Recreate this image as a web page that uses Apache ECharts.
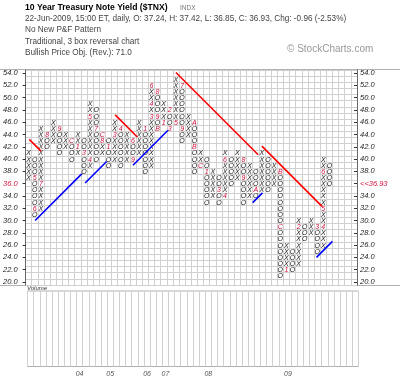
<!DOCTYPE html>
<html><head><meta charset="utf-8">
<script src="https://cdn.jsdelivr.net/npm/echarts@6/dist/echarts.min.js"></script>
<style>html,body{margin:0;padding:0;background:#fff}#c{width:400px;height:378px}</style>
</head><body><div id="c"></div>
<script>
const leftTickLabels = ['20.0','21.0','22.0','23.0','24.0','25.0','26.0','27.0','28.0','29.0','30.0','31.0','32.0','33.0','34.0','35.0','36.0','37.0','38.0','39.0','40.0','41.0','42.0','43.0','44.0','45.0','46.0','47.0','48.0','49.0','50.0','51.0','52.0','53.0','54.0'];
const rightTickLabels = ['20.0','21.0','22.0','23.0','24.0','25.0','26.0','27.0','28.0','29.0','30.0','31.0','32.0','33.0','34.0','35.0','<<36.93','37.0','38.0','39.0','40.0','41.0','42.0','43.0','44.0','45.0','46.0','47.0','48.0','49.0','50.0','51.0','52.0','53.0','54.0'];
const boxMin = 20, boxMax = 54, totalCols = 54;

const colTypes = ['X','O','X','O','X','O','X','O','X','O','X','O','X','O','X','O','X','O','X','O','X','O','X','O','X','O','X','O','X','O','X','O','X','O','X','O','X','O','X','O','X','O','X','O','X','O','X','O','X','O'];
const colLows  = [37,31,32,42,43,41,42,40,41,38,39,40,41,39,40,39,40,40,41,38,39,45,46,45,46,43,44,38,39,33,34,33,34,36,37,33,34,34,35,35,36,21,22,22,23,27,28,25,26,36];
const colHighs = [41,40,45,44,46,45,44,43,44,43,49,48,44,43,46,45,44,43,46,45,52,51,49,48,53,52,47,46,41,40,38,37,41,40,41,40,39,38,41,40,39,38,26,25,30,29,30,29,40,39];
const monthMarks = [[2,37,'5'],[2,32,'6'],[3,36,'7'],[4,44,'8'],[6,45,'9'],[8,43,'C'],[9,42,'1'],[10,41,'3'],[11,40,'4'],[11,47,'5'],[12,45,'7'],[13,43,'8'],[13,44,'C'],[14,42,'1'],[15,44,'3'],[16,45,'4'],[18,43,'6'],[18,40,'9'],[20,45,'1'],[21,47,'3'],[21,49,'4'],[21,52,'6'],[22,51,'8'],[22,47,'9'],[22,45,'B'],[23,46,'1'],[24,48,'2'],[24,45,'3'],[25,46,'5'],[26,52,'7'],[26,45,'9'],[28,46,'A'],[28,42,'B'],[29,39,'C'],[30,38,'1'],[32,35,'3'],[33,34,'4'],[33,40,'6'],[36,40,'8'],[36,37,'9'],[38,35,'A'],[42,38,'B'],[42,29,'C'],[43,22,'1'],[45,29,'2'],[48,29,'3'],[49,29,'4'],[49,32,'5'],[49,38,'6']];

const redTrendLines = [[1.1,43.2,3.0,41.3],[15.1,47.2,18.7,43.6],[25.0,54.1,38.4,40.7],[39.0,42.1,48.8,32.3]];
const blueTrendLines = [[2.05,30.0,9.65,37.6],[10.2,36.1,13.7,39.6],[18.0,39.0,23.7,44.7],[37.5,32.9,39.1,34.5],[47.9,24.0,50.5,26.6]];

const yearLabels = ['04','05','06','07','08','09'];
const yearCols = [9,14,20,23,30,43];

// build glyph list
const markMap = {};
monthMarks.forEach(m => { markMap[m[0] + '_' + m[1]] = m[2]; });
const glyphs = [];
colTypes.forEach((t, i) => {
  const col = i + 1;
  for (let v = colLows[i]; v <= colHighs[i]; v++) {
    const mk = markMap[col + '_' + v];
    glyphs.push({ value: [col, v], text: mk || t, mark: !!mk });
  }
});
const colCats = [];
for (let i = 1; i <= totalCols; i++) {
  const k = yearCols.indexOf(i);
  colCats.push(k >= 0 ? yearLabels[k] : '');
}

const FONT = '"Liberation Sans", Arial, sans-serif';
const chart = echarts.init(document.getElementById('c'), null, { renderer: 'canvas' });
const series = [];
series.push({
  type: 'custom', xAxisIndex: 0, yAxisIndex: 0, silent: true,
  data: glyphs.map(g => g.value),
  renderItem: function (params, api) {
    const g = glyphs[params.dataIndex];
    const p = api.coord([api.value(0), api.value(1)]);
    return {
      type: 'text', x: p[0], y: p[1] + 0.5,
      style: { text: g.text, fill: g.mark ? '#d0103a' : '#222', font: 'italic 7px ' + FONT, align: 'center', verticalAlign: 'middle' }
    };
  }
});
redTrendLines.forEach(l => series.push({ type: 'line', xAxisIndex: 0, yAxisIndex: 0, silent: true, symbol: 'none', data: [[l[0], l[1]], [l[2], l[3]]], lineStyle: { color: '#ff0000', width: 1.6 }, z: 5 }));
blueTrendLines.forEach(l => series.push({ type: 'line', xAxisIndex: 0, yAxisIndex: 0, silent: true, symbol: 'none', data: [[l[0], l[1]], [l[2], l[3]]], lineStyle: { color: '#0000ff', width: 1.6 }, z: 5 }));

const gridLine = { show: true, lineStyle: { color: '#d0d0d0', width: 1 } };
const option = {
  animation: false,
  backgroundColor: '#fff',
  grid: [
    { left: 25.5, right: 43, top: 70, height: 215, show: false },
    { left: 27.5, right: 41.5, top: 291, height: 75.5, show: true, borderColor: '#b0b0b0', borderWidth: 1, backgroundColor: 'transparent' }
  ],
  xAxis: [
    { type: 'value', gridIndex: 0, min: 0.5, max: totalCols + 0.5, interval: 1, splitLine: gridLine, axisLine: { show: false }, axisTick: { show: false }, axisLabel: { show: false } },
    { type: 'value', gridIndex: 1, min: 0.5, max: totalCols + 0.5, interval: 1, splitLine: gridLine, axisLine: { show: false }, axisTick: { show: false }, axisLabel: { show: false } },
    { type: 'category', gridIndex: 1, data: colCats, position: 'bottom', axisLine: { show: false }, axisTick: { show: false },
      axisLabel: { interval: 0, margin: 4, color: '#555', fontSize: 7, fontStyle: 'italic', fontFamily: FONT } }
  ],
  yAxis: [
    { type: 'value', gridIndex: 0, min: boxMin - 0.5, max: boxMax + 0.5, interval: 1, splitLine: gridLine, axisLine: { show: false }, axisTick: { show: false }, axisLabel: { show: false } },
    { type: 'category', gridIndex: 0, position: 'left', data: leftTickLabels, boundaryGap: true,
      axisLine: { show: true, lineStyle: { color: '#666' } }, axisTick: { show: true, alignWithLabel: true, length: 3, lineStyle: { color: '#333' } },
      axisLabel: { margin: 8, fontSize: 7.5, fontStyle: 'italic', fontFamily: FONT, color: function (v) { return v === '36.0' ? '#d0103a' : '#222'; } }, splitLine: { show: false } },
    { type: 'category', gridIndex: 0, position: 'right', data: rightTickLabels, boundaryGap: true,
      axisLine: { show: true, lineStyle: { color: '#666' } }, axisTick: { show: true, alignWithLabel: true, inside: true, length: 3, lineStyle: { color: '#333' } },
      axisLabel: { margin: 3, fontSize: 7.5, fontStyle: 'italic', fontFamily: FONT, color: function (v) { return v.indexOf('<<') === 0 ? '#d0103a' : '#222'; } }, splitLine: { show: false } },
    { type: 'value', gridIndex: 1, min: 0, max: 1, show: false }
  ],
  graphic: [
    { type: 'text', left: 25, top: 3, style: { text: '10 Year Treasury Note Yield ($TNX)', font: 'bold 8.6px ' + FONT, fill: '#000' } },
    { type: 'text', left: 180, top: 4.5, style: { text: 'INDX', font: '6.5px ' + FONT, fill: '#777' } },
    { type: 'text', left: 25, top: 15, style: { text: '22-Jun-2009, 15:00 ET, daily, O: 37.24, H: 37.42, L: 36.85, C: 36.93, Chg: -0.96 (-2.53%)', font: '8.2px ' + FONT, fill: '#444' } },
    { type: 'text', left: 25, top: 25.5, style: { text: 'No New P&F Pattern', font: '8.2px ' + FONT, fill: '#444' } },
    { type: 'text', left: 25, top: 37.5, style: { text: 'Traditional, 3 box reversal chart', font: '8.2px ' + FONT, fill: '#444' } },
    { type: 'text', left: 25, top: 49, style: { text: 'Bullish Price Obj. (Rev.): 71.0', font: '8.2px ' + FONT, fill: '#444' } },
    { type: 'text', left: 287, top: 44, style: { text: '\u00a9 StockCharts.com', font: '10px ' + FONT, fill: '#999' } },
    { type: 'line', shape: { x1: 0, y1: 69.5, x2: 400, y2: 69.5 }, style: { stroke: '#b0b0b0', lineWidth: 1 } },
    { type: 'line', shape: { x1: 0, y1: 285.5, x2: 400, y2: 285.5 }, style: { stroke: '#b0b0b0', lineWidth: 1 } },
    { type: 'text', left: 27, top: 285.5, style: { text: 'Volume', font: 'italic 6px ' + FONT, fill: '#333' } }
  ],
  series: series
};
chart.setOption(option);
</script></body></html>
